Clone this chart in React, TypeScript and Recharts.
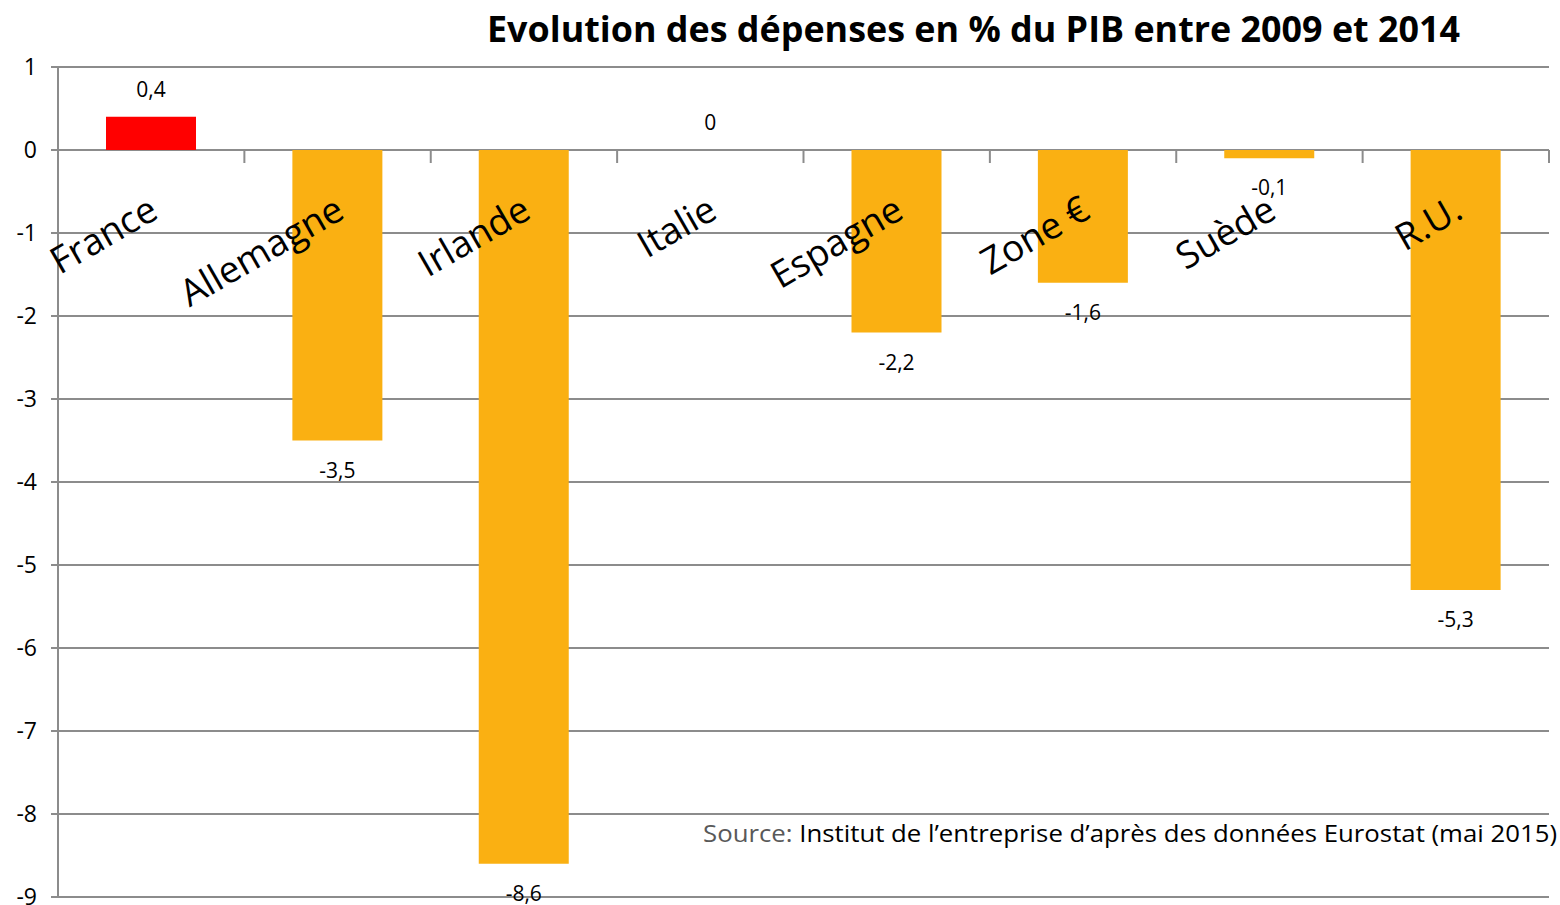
import { BarChart, Bar, XAxis, YAxis, CartesianGrid, Cell, LabelList } from 'recharts'

const categories = ['France', 'Allemagne', 'Irlande', 'Italie', 'Espagne', 'Zone €', 'Suède', 'R.U.']
const values = [0.4, -3.5, -8.6, 0, -2.2, -1.6, -0.1, -5.3]
const yTicks = [1, 0, -1, -2, -3, -4, -5, -6, -7, -8, -9]

const W = 1560
const H = 905
const MARGIN = { top: 67, right: 11, bottom: 7, left: 0 }
const X_AXIS_H = 1
const Y_AXIS_W = 58
const PLOT_H = H - MARGIN.top - MARGIN.bottom - X_AXIS_H
const PLOT_W = W - MARGIN.left - MARGIN.right - Y_AXIS_W
const BAND = PLOT_W / categories.length
// axe des catégories croise l'axe vertical à 0
const ZERO_Y = MARGIN.top + PLOT_H * (1 / 10)

const ORANGE = '#FAB012'
const GRID = '#8c8c8c'
const FONT = '"Open Sans", sans-serif'

const data = categories.map((name, i) => ({ name, value: values[i] }))

const fmt = (v: number) => String(v).replace('.', ',')

function CategoryTick(props: any) {
  const { x, payload, index } = props
  const v = values[index]
  const lx = x + 9
  const ly = ZERO_Y + 67
  return (
    <g>
      <line x1={x + BAND / 2} x2={x + BAND / 2} y1={ZERO_Y} y2={ZERO_Y + 13} stroke={GRID} strokeWidth={2} />
      {/* barre nulle : recharts ne pose pas d'étiquette, on l'ajoute ici */}
      {v === 0 && (
        <text x={x} y={ZERO_Y - 20} textAnchor="middle" fontFamily={FONT} fontSize={21} fill="#000">
          {fmt(v)}
        </text>
      )}
      <text
        x={lx}
        y={ly}
        transform={`rotate(-30, ${lx}, ${ly})`}
        textAnchor="end"
        fontFamily={FONT}
        fontSize={37}
        fill="#000"
      >
        {payload.value}
      </text>
    </g>
  )
}

function ValueLabel(props: any) {
  const { x, y, width, height, value } = props
  if (value === 0) return null
  const top = Math.min(y, y + height)
  const bottom = Math.max(y, y + height)
  const ty = value >= 0 ? top - 20 : bottom + 37
  return (
    <text x={x + width / 2} y={ty} textAnchor="middle" fontFamily={FONT} fontSize={21} fill="#000">
      {fmt(value)}
    </text>
  )
}

export default function App() {
  return (
    <div style={{ position: 'absolute', left: 0, top: 0, width: W, height: H, background: '#fff' }}>
      <BarChart width={W} height={H} data={data} margin={MARGIN}>
        <CartesianGrid vertical={false} stroke={GRID} strokeWidth={2} />
        <YAxis
          width={Y_AXIS_W}
          domain={[-9, 1]}
          ticks={yTicks}
          interval={0}
          axisLine={{ stroke: GRID, strokeWidth: 2 }}
          tickLine={{ stroke: GRID, strokeWidth: 2 }}
          tickSize={7}
          tick={{ fill: '#000', fontSize: 23, fontFamily: FONT, dx: -12 }}
        />
        <Bar dataKey="value" barSize={90} isAnimationActive={false}>
          {data.map((d, i) => (
            <Cell key={`cell-${i}`} fill={d.name === 'France' ? '#FF0000' : ORANGE} />
          ))}
          <LabelList dataKey="value" content={<ValueLabel />} />
        </Bar>
        <XAxis
          dataKey="name"
          height={X_AXIS_H}
          axisLine={false}
          tickLine={false}
          tick={<CategoryTick />}
          interval={0}
        />
      </BarChart>
      <svg width={W} height={H} style={{ position: 'absolute', left: 0, top: 0, pointerEvents: 'none' }}>
        <text
          x={487}
          y={42}
          textLength={973}
          lengthAdjust="spacingAndGlyphs"
          fontFamily={FONT}
          fontWeight="bold"
          fontSize={36}
          fill="#000"
        >
          Evolution des dépenses en % du PIB entre 2009 et 2014
        </text>
        <text x={703} y={842} textLength={854} lengthAdjust="spacingAndGlyphs" fontFamily={FONT} fontSize={23}>
          <tspan fill="#595959">Source: </tspan>
          <tspan fill="#000">Institut de l’entreprise d’après des données Eurostat (mai 2015)</tspan>
        </text>
      </svg>
    </div>
  )
}
